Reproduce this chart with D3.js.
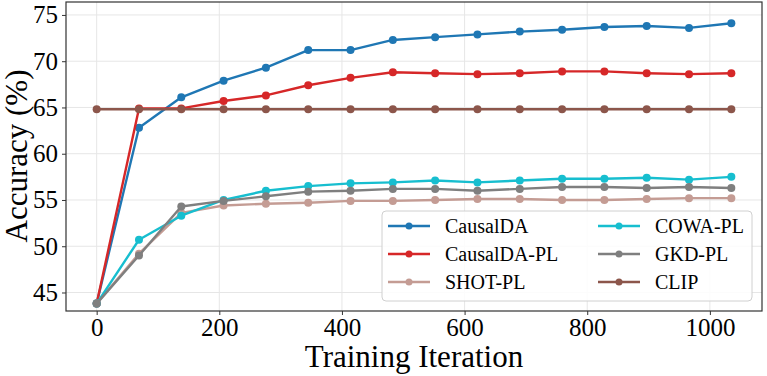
<!DOCTYPE html>
<html>
<head>
<meta charset="utf-8">
<script src="https://cdn.jsdelivr.net/npm/d3@7"></script>
<style>
body { margin: 0; background: #fff; }
text { font-family: "Liberation Serif", "Times New Roman", serif; }
</style>
</head>
<body>
<div id="chart"></div>
<script>
const iterations = [0, 69, 138, 207, 276, 345, 414, 483, 552, 621, 690, 759, 828, 897, 966, 1035];

const causalDA   = [43.8, 62.8, 66.1, 67.9, 69.3, 71.2, 71.2, 72.3, 72.6, 72.9, 73.2, 73.4, 73.7, 73.8, 73.6, 74.1];
const causalDAPL = [43.8, 64.9, 64.9, 65.7, 66.3, 67.4, 68.2, 68.8, 68.7, 68.6, 68.7, 68.9, 68.9, 68.7, 68.6, 68.7];
const shotPL     = [43.8, 49.2, 53.6, 54.4, 54.6, 54.7, 54.9, 54.9, 55.0, 55.1, 55.1, 55.0, 55.0, 55.1, 55.2, 55.2];
const cowaPL     = [43.8, 50.7, 53.3, 55.0, 56.0, 56.5, 56.8, 56.9, 57.1, 56.9, 57.1, 57.3, 57.3, 57.4, 57.2, 57.5];
const gkdPL      = [43.8, 49.0, 54.3, 54.9, 55.4, 55.9, 56.0, 56.2, 56.2, 56.0, 56.2, 56.4, 56.4, 56.3, 56.4, 56.3];
const clip       = [64.8, 64.8, 64.8, 64.8, 64.8, 64.8, 64.8, 64.8, 64.8, 64.8, 64.8, 64.8, 64.8, 64.8, 64.8, 64.8];

const seriesNames = ['CausalDA', 'CausalDA-PL', 'SHOT-PL', 'COWA-PL', 'GKD-PL', 'CLIP'];
const seriesValues = [causalDA, causalDAPL, shotPL, cowaPL, gkdPL, clip];
const colors = ['#1f77b4', '#d62728', '#c49c94', '#17becf', '#7f7f7f', '#8c564b'];

const xTicks = [0, 200, 400, 600, 800, 1000];
const yTicks = [45, 50, 55, 60, 65, 70, 75];

const width = 767;
const height = 376;
const plotLeft = 66, plotRight = 762, plotTop = 2, plotBottom = 311;

const svg = d3.select('#chart')
              .append('svg')
              .attr('width', width)
              .attr('height', height);

const xScale = d3.scaleLinear()
                 .domain([-50, 1085])
                 .range([plotLeft, plotRight]);

const yScale = d3.scaleLinear()
                 .domain([43.0, 76.4])
                 .range([plotBottom, plotTop]);

// grid
svg.append('g')
   .selectAll('line')
   .data(xTicks)
   .enter()
   .append('line')
   .attr('x1', d => xScale(d))
   .attr('x2', d => xScale(d))
   .attr('y1', plotTop)
   .attr('y2', plotBottom)
   .attr('stroke', '#e6e6e6')
   .attr('stroke-width', 1);

svg.append('g')
   .selectAll('line')
   .data(yTicks)
   .enter()
   .append('line')
   .attr('x1', plotLeft)
   .attr('x2', plotRight)
   .attr('y1', d => yScale(d))
   .attr('y2', d => yScale(d))
   .attr('stroke', '#e6e6e6')
   .attr('stroke-width', 1);

// axes
const xAxis = d3.axisBottom(xScale)
                .tickValues(xTicks)
                .tickSize(4)
                .tickPadding(3)
                .tickFormat(d3.format('d'));

const yAxis = d3.axisLeft(yScale)
                .tickValues(yTicks)
                .tickSize(4)
                .tickPadding(4)
                .tickFormat(d3.format('d'));

const gx = svg.append('g')
   .attr('transform', 'translate(0,' + plotBottom + ')')
   .call(xAxis);

const gy = svg.append('g')
   .attr('transform', 'translate(' + plotLeft + ',0)')
   .call(yAxis);

[gx, gy].forEach(g => {
    g.select('.domain').remove();
    g.selectAll('line').attr('stroke', '#333');
    g.selectAll('text')
     .style('font-family', '"Liberation Serif", serif')
     .style('font-size', '25px')
     .attr('fill', '#000');
});

// lines
const line = d3.line()
               .x((d, i) => xScale(iterations[i]))
               .y(d => yScale(d));

seriesValues.forEach((vals, k) => {
    const g = svg.append('g');
    g.append('path')
     .datum(vals)
     .attr('d', line)
     .attr('fill', 'none')
     .attr('stroke', colors[k])
     .attr('stroke-width', 2.4)
     .attr('stroke-linejoin', 'round');
    g.selectAll('circle')
     .data(vals)
     .enter()
     .append('circle')
     .attr('cx', (d, i) => xScale(iterations[i]))
     .attr('cy', d => yScale(d))
     .attr('r', 4)
     .attr('fill', colors[k]);
});

// frame
svg.append('rect')
   .attr('x', plotLeft)
   .attr('y', plotTop)
   .attr('width', plotRight - plotLeft)
   .attr('height', plotBottom - plotTop)
   .attr('fill', 'none')
   .attr('stroke', '#333')
   .attr('stroke-width', 1.2);

// legend
const legend = svg.append('g');
legend.append('rect')
      .attr('x', 382)
      .attr('y', 211)
      .attr('width', 370)
      .attr('height', 90)
      .attr('rx', 4)
      .attr('fill', 'rgba(255,255,255,0.85)')
      .attr('stroke', '#d0d0d0')
      .attr('stroke-width', 1);

seriesNames.forEach((name, k) => {
    const col = Math.floor(k / 3);
    const row = k % 3;
    const lx = col === 0 ? 388 : 598;
    const ly = 226 + row * 28;
    const item = legend.append('g');
    item.append('line')
        .attr('x1', lx)
        .attr('x2', lx + 42)
        .attr('y1', ly)
        .attr('y2', ly)
        .attr('stroke', colors[k])
        .attr('stroke-width', 2.4);
    item.append('circle')
        .attr('cx', lx + 21)
        .attr('cy', ly)
        .attr('r', 3.5)
        .attr('fill', colors[k]);
    item.append('text')
        .attr('x', lx + 57)
        .attr('y', ly + 7)
        .style('font-size', '20px')
        .attr('fill', '#000')
        .text(name);
});

// axis labels
svg.append('text')
   .attr('x', (plotLeft + plotRight) / 2)
   .attr('y', 367)
   .attr('text-anchor', 'middle')
   .style('font-size', '31px')
   .text('Training Iteration');

svg.append('text')
   .attr('transform', 'translate(27,' + 156 + ') rotate(-90)')
   .attr('text-anchor', 'middle')
   .style('font-size', '31px')
   .text('Accuracy (%)');
</script>
</body>
</html>
